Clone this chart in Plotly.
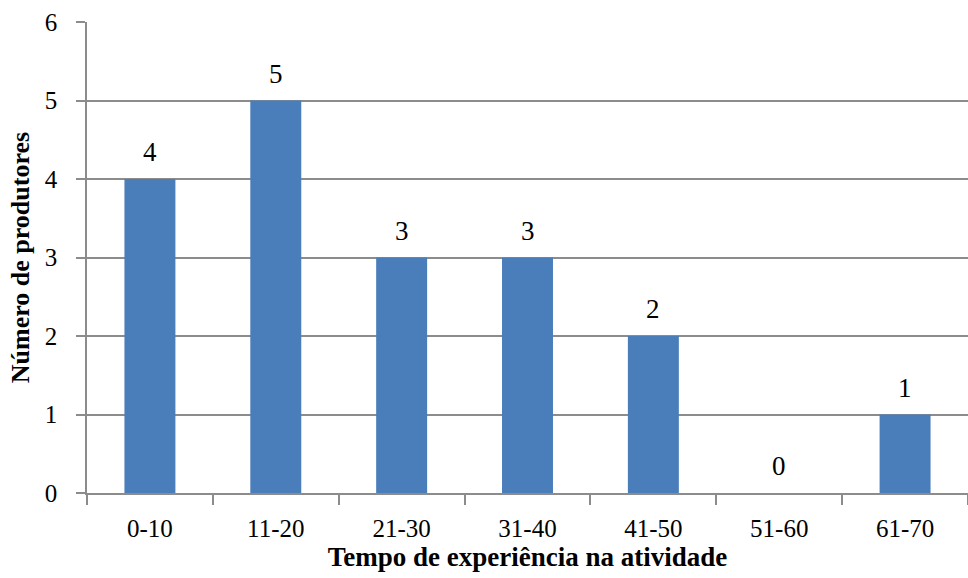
import plotly.graph_objects as go

categories = ["0-10", "11-20", "21-30", "31-40", "41-50", "51-60", "61-70"]
values = [4, 5, 3, 3, 2, 0, 1]
y_ticks = [0, 1, 2, 3, 4, 5, 6]

font_family = "Liberation Serif"
gray = "#8c8c8c"

fig = go.Figure(go.Bar(
    x=categories, y=values,
    marker=dict(color="#4a7ebb", line=dict(width=0)),
    cliponaxis=False,
))

for c, v in zip(categories, values):
    fig.add_annotation(
        x=c, y=v, text=str(v), showarrow=False,
        yanchor="bottom", yshift=10,
        font=dict(family=font_family, size=27, color="#000000"),
    )

fig.update_layout(
    width=968, height=578,
    margin=dict(l=87, r=0, t=22, b=85),
    paper_bgcolor="white", plot_bgcolor="white",
    bargap=0.595,
    showlegend=False,
    font=dict(family=font_family, size=25, color="#000000"),
)

fig.update_xaxes(
    type="category",
    tickson="boundaries",
    ticks="outside", ticklen=10, tickwidth=1.5, tickcolor=gray,
    ticklabelstandoff=12,
    showline=True, linecolor=gray, linewidth=1.5,
    showgrid=False,
    tickfont=dict(family=font_family, size=25, color="#000000"),
    title=dict(text="<b>Tempo de experiência na atividade</b>",
               font=dict(family=font_family, size=27, color="#000000"), standoff=6),
)
fig.update_yaxes(
    range=[0, 6], tickvals=y_ticks,
    ticks="outside", ticklen=9, tickwidth=1.5, tickcolor=gray,
    ticklabelstandoff=14,
    showline=True, linecolor=gray, linewidth=1.5,
    showgrid=True, gridcolor=gray, gridwidth=1.5,
    zeroline=False,
    tickfont=dict(family=font_family, size=25, color="#000000"),
    title=dict(text="<b>Número de produtores</b>",
               font=dict(family=font_family, size=26, color="#000000"), standoff=8),
)

fig.write_html("out.html")
